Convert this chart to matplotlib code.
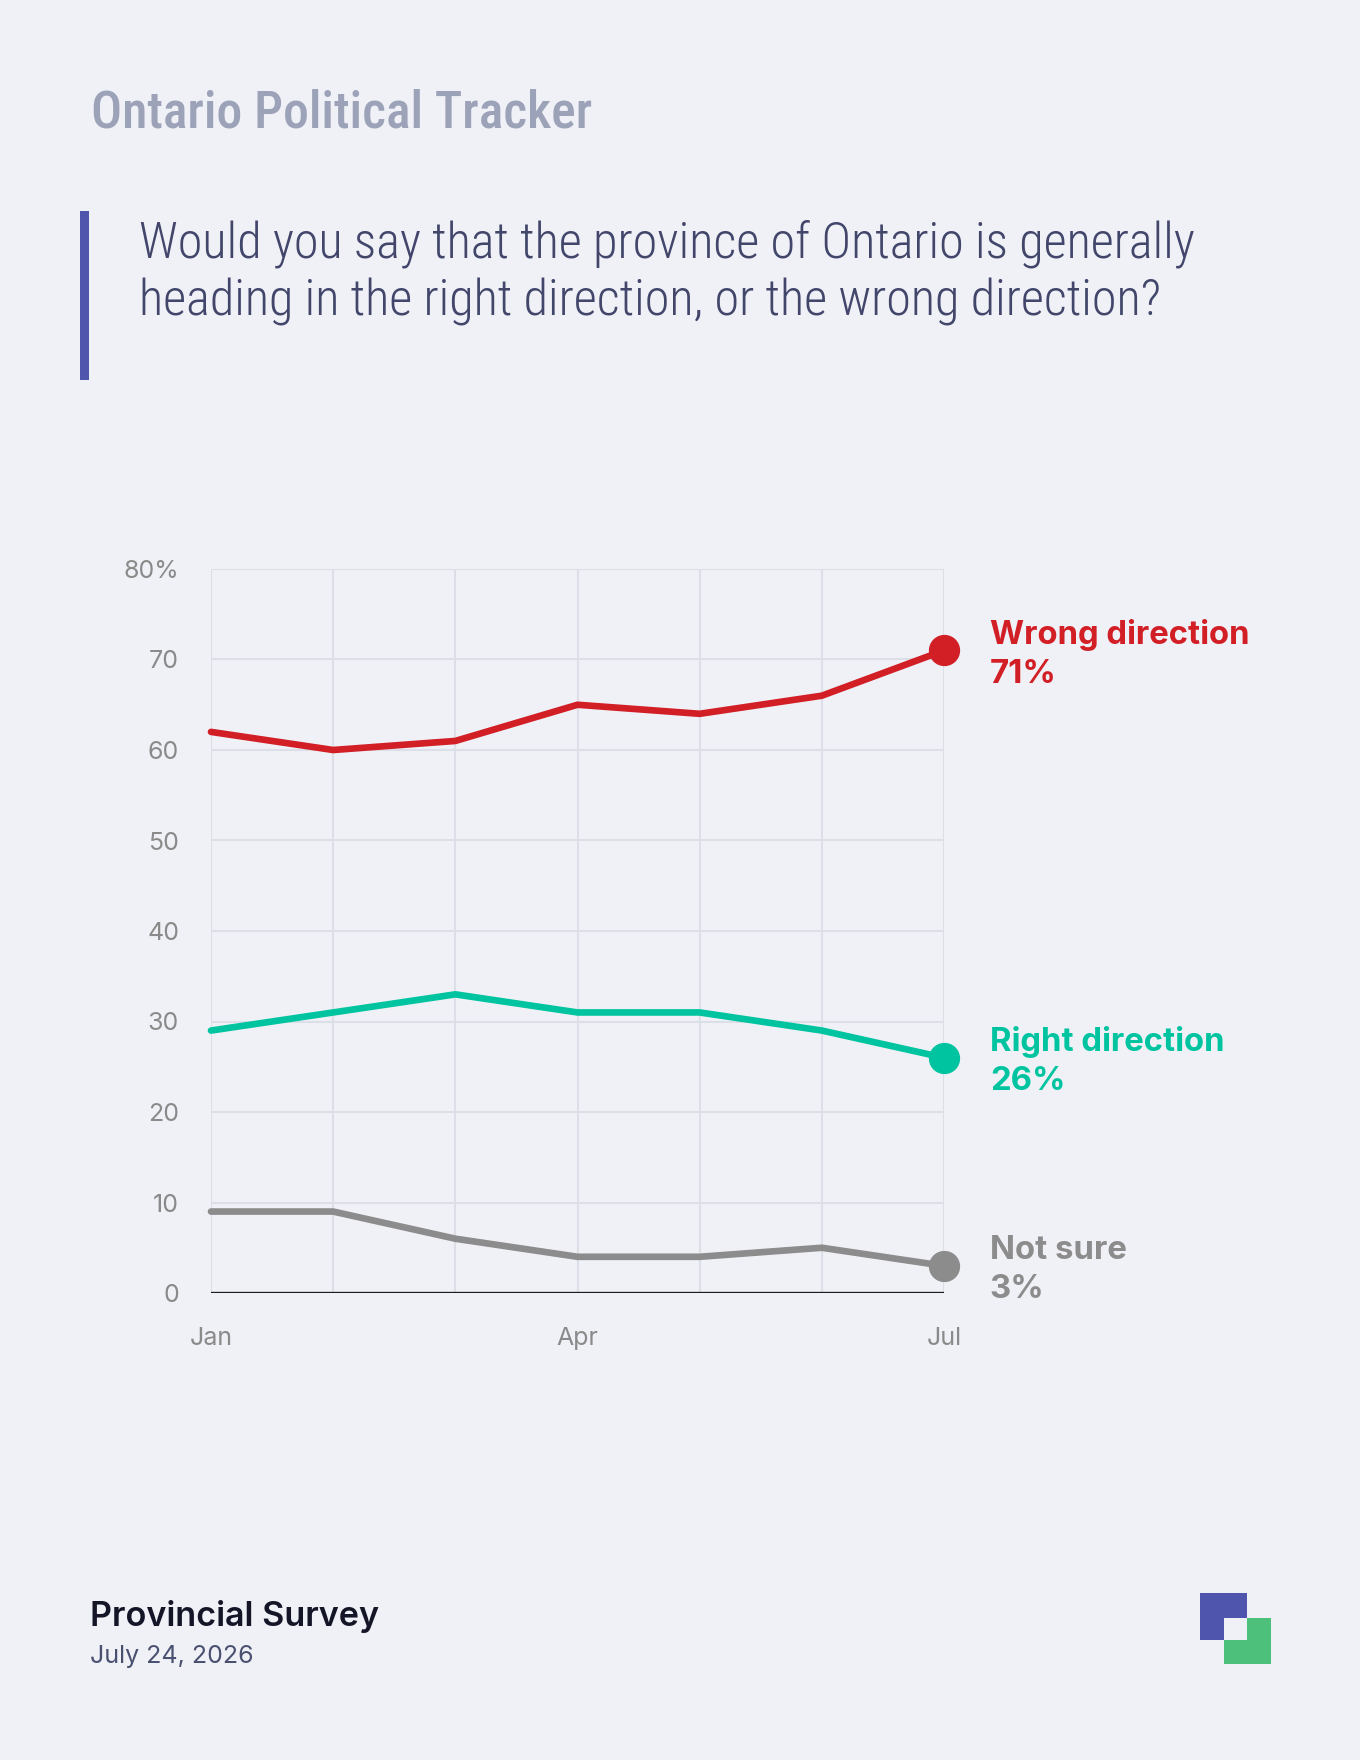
import os
import matplotlib
matplotlib.use("Agg")
import matplotlib.pyplot as plt
from matplotlib import font_manager as fm
from matplotlib.patches import Rectangle
from matplotlib.font_manager import FontProperties

# ---------------- data ----------------
months = ["Jan", "Feb", "Mar", "Apr", "May", "Jun", "Jul"]
wrong = [62, 60, 61, 65, 64, 66, 71]
right = [29, 31, 33, 31, 31, 29, 26]
not_sure = [9, 9, 6, 4, 4, 5, 3]
series_names = ["Wrong direction", "Right direction", "Not sure"]
y_ticks = [0, 10, 20, 30, 40, 50, 60, 70, 80]
y_tick_labels = ["0", "10", "20", "30", "40", "50", "60", "70", "80%"]
x_label_every = 3

title = "Ontario Political Tracker"
question = ["Would you say that the province of Ontario is generally",
            "heading in the right direction, or the wrong direction?"]
footer_title = "Provincial Survey"
footer_date = "July 24, 2026"

# ---------------- style ----------------
W, H = 1360, 1760
BG = "#f0f1f7"
RED = "#d21f26"
TEAL = "#00c4a0"
GRAY = "#8c8c8c"
GRID = "#dcdfe8"
TICK = "#8a8a8a"
TITLE_C = "#9ca2b8"
Q_C = "#41466a"
ACCENT = "#4f54ad"
GREEN = "#4dc17c"


def font_file(patterns):
    files = [f.fname for f in fm.fontManager.ttflist]
    for p in patterns:
        for fn in files:
            if p in os.path.basename(fn).lower().replace(" ", ""):
                return fn
    return None


def props(patterns, family, weight):
    fn = font_file(patterns)
    if fn:
        return FontProperties(fname=fn)
    return FontProperties(family=family, weight=weight)


q_fp = props(["opensans_condensed-light.", "opensanscondensed-light", "robotocondensed-light",
              "liberationsansnarrow-regular", "dejavusanscondensed.ttf"],
             ["Roboto", "DejaVu Sans"], "light")
t_fp = props(["opensans_semicondensed-semibold", "opensans_condensed-semibold", "robotocondensed-medium",
              "robotocondensed-bold", "liberationsansnarrow-bold", "dejavusanscondensed-bold"],
             ["Inter", "DejaVu Sans"], "semibold")

plt.rcParams["font.family"] = ["Inter", "DejaVu Sans"]

fig = plt.figure(figsize=(W / 100, H / 100), dpi=100, facecolor=BG)


def fx(px):
    return px / W


def fy(py):
    return 1 - py / H


# axes: left 211, right 944, top 569, bottom 1293 (pixels)
ax = fig.add_axes([fx(211), fy(1293), (944 - 211) / W, (1293 - 569) / H])
ax.set_facecolor(BG)
x = list(range(len(months)))
ax.set_xlim(0, len(months) - 1)
ax.set_ylim(0, 80)
for s in ax.spines.values():
    s.set_visible(False)
ax.set_yticks(y_ticks)
ax.set_yticklabels(y_tick_labels)
ax.set_xticks(x)
ax.set_xticklabels([m if i % x_label_every == 0 else "" for i, m in enumerate(months)])
ax.tick_params(axis="both", length=0, labelsize=18, labelcolor=TICK)
ax.tick_params(axis="y", pad=23)
ax.tick_params(axis="x", pad=24.5)
ax.grid(True, color=GRID, lw=1.5)
ax.set_axisbelow(True)
ax.axhline(0, color="#1b1b24", lw=2.4, zorder=3)

for vals, col, name in zip([wrong, right, not_sure], [RED, TEAL, GRAY], series_names):
    ax.plot(x, vals, color=col, lw=4.8, zorder=4, clip_on=False,
            solid_joinstyle="round", solid_capstyle="round")
    ax.plot([x[-1]], [vals[-1]], "o", color=col, ms=21.5, zorder=5, clip_on=False)
    ax.annotate(name, xy=(x[-1], vals[-1]), xytext=(33, 5), textcoords="offset points",
                ha="left", va="baseline", color=col, fontsize=23.7, fontweight="bold",
                annotation_clip=False)
    ax.annotate(f"{vals[-1]}%", xy=(x[-1], vals[-1]), xytext=(33, -23.4), textcoords="offset points",
                ha="left", va="baseline", color=col, fontsize=23.7, fontweight="bold",
                annotation_clip=False)

# header
t = fig.text(fx(91), fy(127), title, fontproperties=t_fp, fontsize=34, color=TITLE_C,
             ha="left", va="baseline")
q1 = fig.text(fx(139), fy(257), question[0], fontproperties=q_fp, fontsize=34, color=Q_C,
              ha="left", va="baseline")
q2 = fig.text(fx(139), fy(315), question[1], fontproperties=q_fp, fontsize=34, color=Q_C,
              ha="left", va="baseline")

fig.canvas.draw()
r = fig.canvas.get_renderer()
tw = t.get_window_extent(r).width
t.set_fontsize(34 * 501 / tw)
qw = q1.get_window_extent(r).width
qs = 34 * 1058 / qw
q1.set_fontsize(qs)
q2.set_fontsize(qs)

fig.patches.append(Rectangle((fx(80), fy(380)), 9 / W, (380 - 211) / H,
                             transform=fig.transFigure, color=ACCENT, lw=0))

# footer
fig.text(fx(90), fy(1626), footer_title, fontsize=24.6, fontweight="semibold", color="#141628",
         ha="left", va="baseline")
fig.text(fx(90), fy(1663), footer_date, fontsize=18, color="#4a5070", ha="left", va="baseline")

# logo
fig.patches.append(Rectangle((fx(1200), fy(1640)), 47 / W, 47 / H, transform=fig.transFigure,
                             color=ACCENT, lw=0))
fig.patches.append(Rectangle((fx(1224), fy(1664)), 47 / W, 46 / H, transform=fig.transFigure,
                             color=GREEN, lw=0))
fig.patches.append(Rectangle((fx(1224), fy(1640)), 23 / W, 22 / H, transform=fig.transFigure,
                             color=BG, lw=0))

fig.savefig("out.png", dpi=100, facecolor=BG)
